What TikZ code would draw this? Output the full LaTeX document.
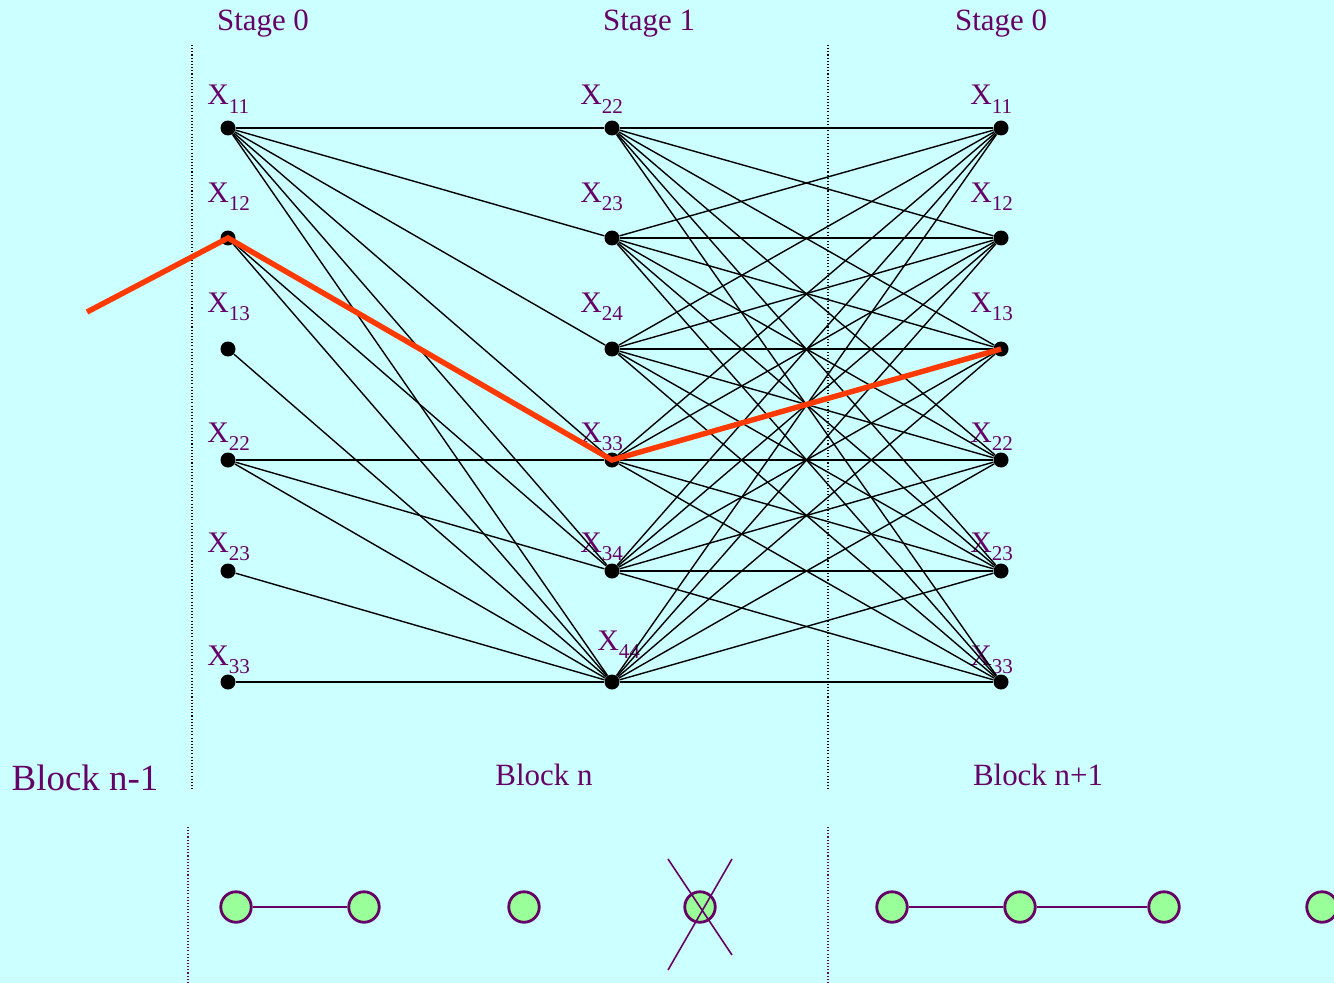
\documentclass[tikz,border=0pt]{standalone}
\usepackage{fontspec}
\setmainfont{Liberation Serif}
\usepackage{xcolor}
\usetikzlibrary{positioning}
\definecolor{bgcyan}{HTML}{CCFFFF}
\definecolor{plum}{HTML}{660066}
\definecolor{mint}{HTML}{99FF99}
\definecolor{hotred}{HTML}{FF3A00}
\newcommand{\xsub}[1]{X\raisebox{-4.6pt}{\fontsize{12}{12}\selectfont #1}}
\begin{document}
\begin{tikzpicture}[
  x=0.02cm, y=-0.02cm,
  every node/.style={text=plum},
  dot/.style={circle, fill=black, inner sep=0pt, minimum size=0.3cm},
  xlab/.style={anchor=base west, inner sep=0pt, font=\fontsize{17}{17}\selectfont},
  head/.style={anchor=base, inner sep=0pt, font=\fontsize{17.6}{18}\selectfont},
  edge/.style={line width=0.8pt},
  route/.style={draw=hotred, line width=3.1pt},
  divider/.style={dash pattern=on 0.6pt off 1.2pt, line width=0.6pt},
  ball/.style={circle, draw=plum, fill=mint, line width=1.6pt,
               minimum size=0.61cm, inner sep=0pt},
  link/.style={draw=plum, line width=1.2pt},
]
\useasboundingbox[fill=bgcyan] (0,0) rectangle (1334,983);

% stage headings and block names
\node[head] (st0a) at (263,31)  {Stage 0};
\node[head] (st1)  at (649,31)  {Stage 1};
\node[head] (st0b) at (1001,31) {Stage 0};
\node[head, font=\fontsize{21}{22}\selectfont] (blkprev) at (85,790) {Block n-1};
\node[head] (blk)     at (544,785)  {Block n};
\node[head] (blknext) at (1038,785) {Block n+1};

% block dividers
\draw[divider] (192,45) -- (192,790);
\draw[divider] (828,45) -- (828,790);
\draw[divider, draw=plum] (188,827) -- (188,983);
\draw[divider, draw=plum] (828,827) -- (828,983);

% state labels
\foreach \s/\b [count=\i] in {11/105,12/202,13/312,22/442,23/552,33/665}
  \node[xlab] (ll\i) at (207,\b) {\xsub{\s}};
\foreach \s/\b [count=\i] in {22/105,23/202,24/312,33/442,34/552}
  \node[xlab] (ml\i) at (580,\b) {\xsub{\s}};
\node[xlab] (ml6) at (597,650) {\xsub{44}};
\foreach \s/\b [count=\i] in {11/105,12/202,13/312,22/442,23/552,33/665}
  \node[xlab] (rl\i) at (970,\b) {\xsub{\s}};

% trellis states
\foreach \y [count=\i] in {128,238,349,460,571,682} {
  \node[dot] (l\i) at (228,\y)  {};
  \node[dot] (m\i) at (612,\y)  {};
  \node[dot] (r\i) at (1001,\y) {};
}

% transitions
\foreach \a/\b in {1/1,1/2,1/3,1/4,1/5,1/6,2/4,2/5,2/6,3/6,4/4,4/5,4/6,5/6,6/6}
  \draw[edge] (l\a) -- (m\b);
\foreach \a in {1,...,6}
  \foreach \b in {1,...,6}
    \draw[edge] (m\a) -- (r\b);

% survivor path
\coordinate (entry) at (87,312);
\draw[route] (entry) -- (l2.center) -- (m4.center) -- (r3.center);

% bottom row
\foreach \x [count=\i] in {236,364,524,700,892,1020,1164,1322}
  \node[ball] (b\i) at (\x,907) {};
\draw[link] (b1) -- (b2);
\draw[link] (b5) -- (b6);
\draw[link] (b6) -- (b7);
\draw[link, line width=0.9pt] (668,859) -- (732,955) (732,859) -- (668,970);
\end{tikzpicture}
\end{document}
